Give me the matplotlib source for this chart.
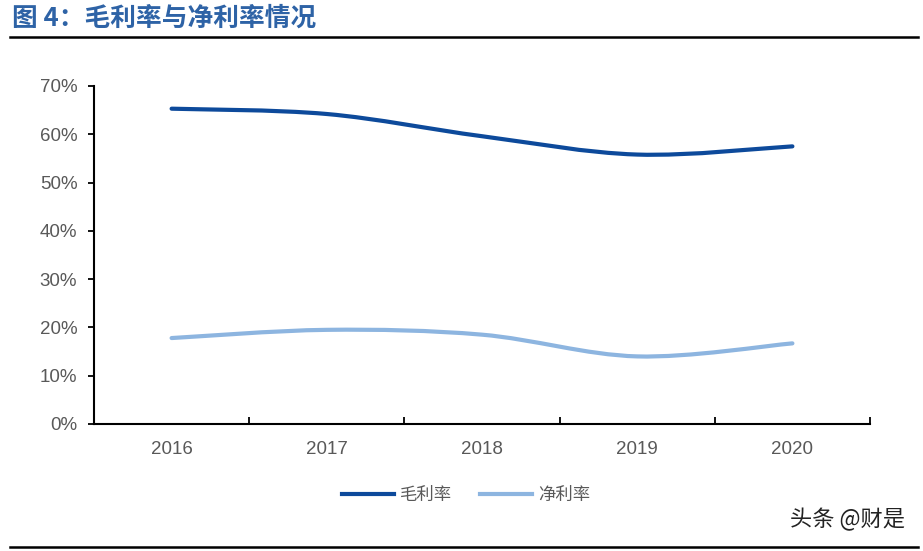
import matplotlib
matplotlib.use("Agg")
import matplotlib.pyplot as plt
import numpy as np
from matplotlib.path import Path
from matplotlib.patches import PathPatch
from matplotlib.lines import Line2D

plt.rcParams['font.family'] = ['Noto Sans CJK SC', 'DejaVu Sans']

years = ['2016', '2017', '2018', '2019', '2020']
gross_margin = [0.653, 0.642, 0.596, 0.558, 0.575]
net_margin = [0.178, 0.195, 0.185, 0.140, 0.167]
series_names = ['毛利率', '净利率']
title = '图 4：毛利率与净利率情况'
watermark = '头条 @财是'
yticks = [0, 0.1, 0.2, 0.3, 0.4, 0.5, 0.6, 0.7]

dark = '#0D4A9B'
light = '#8DB5E0'
gray = '#595959'

fig = plt.figure(figsize=(9.23, 5.51), dpi=100)
ax = fig.add_axes([94/923, 1-424/551, (870-94)/923, (424-86)/551])


def smooth_path(xs, ys):
    pts = np.column_stack([xs, ys]).astype(float)
    n = len(pts)
    verts = [pts[0]]
    codes = [Path.MOVETO]
    for i in range(n - 1):
        p0 = pts[i - 1] if i > 0 else pts[i]
        p1 = pts[i]
        p2 = pts[i + 1]
        p3 = pts[i + 2] if i + 2 < n else pts[i + 1]
        c1 = p1 + (p2 - p0) / 6.0
        c2 = p2 - (p3 - p1) / 6.0
        verts += [c1, c2, p2]
        codes += [Path.CURVE4] * 3
    return Path(verts, codes)


x = np.arange(len(years))
for vals, col in [(gross_margin, dark), (net_margin, light)]:
    patch = PathPatch(smooth_path(x, vals), facecolor='none', edgecolor=col,
                      lw=3.0, capstyle='round', joinstyle='round')
    ax.add_patch(patch)

tick_font = ['Liberation Sans', 'DejaVu Sans']
ax.set_xlim(-0.5, len(years) - 0.5)
ax.set_ylim(0, 0.7)
ax.set_yticks(yticks)
ax.set_yticklabels([f'{int(round(v*100))}%' for v in yticks], color=gray, fontsize=13.5,
                   family=tick_font)
ax.set_xticks(np.arange(-0.5, len(years), 1.0))
ax.set_xticklabels([])
ax.set_xticks(x, minor=True)
ax.set_xticklabels(years, minor=True, color=gray, fontsize=13.5, family=tick_font)
ax.tick_params(axis='x', which='major', direction='in', length=5, width=1.3, color='black')
ax.tick_params(axis='x', which='minor', length=0, pad=12)
ax.tick_params(axis='y', direction='out', length=4, width=1.3, color='black', pad=8)
for s in ['top', 'right']:
    ax.spines[s].set_visible(False)
for s in ['left', 'bottom']:
    ax.spines[s].set_linewidth(1.5)
    ax.spines[s].set_color('black')

# title and rules
fig.text(12/923, 1-18/551, title, fontsize=18.5, fontweight='bold', color='#2E63A6',
         va='center', ha='left')
fig.add_artist(Line2D([10/923, 918/923], [1-37/551, 1-37/551], color='black', lw=1.8))
fig.add_artist(Line2D([10/923, 918/923], [1-547/551, 1-547/551], color='black', lw=1.8))

handles = [Line2D([], [], color=dark, lw=3), Line2D([], [], color=light, lw=3)]
fig.legend(handles, series_names, loc='center', bbox_to_anchor=(466/923, 1-495/551),
           ncol=2, frameon=False, handlelength=3.0, handletextpad=0.35, columnspacing=1.6,
           prop={'size': 12.5}, labelcolor=gray)

fig.text(905/923, 1-520/551, watermark, fontsize=16, color='#222222', ha='right', va='center')

fig.savefig('out.png', dpi=100)
